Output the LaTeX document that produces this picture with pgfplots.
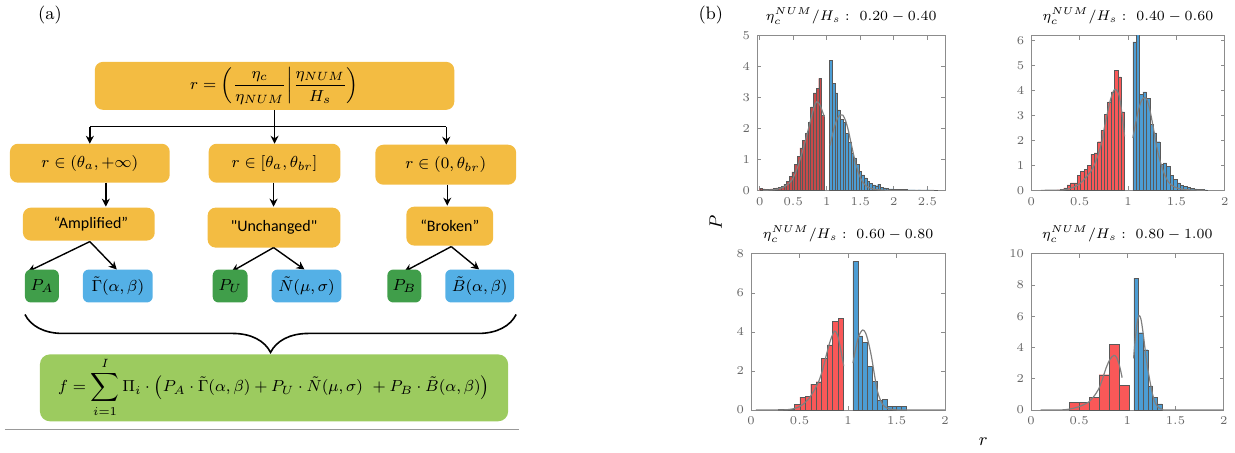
\documentclass[border=0pt]{standalone}
\usepackage{pgfplots}
\pgfplotsset{compat=1.18}
\usepackage{fontspec}
\newfontfamily\calibri{Carlito}
\usetikzlibrary{decorations.pathreplacing,arrows.meta}
\definecolor{orangebox}{RGB}{243,188,66}
\definecolor{greenbox}{RGB}{64,158,74}
\definecolor{bluebox}{RGB}{84,176,230}
\definecolor{lgreen}{RGB}{156,203,95}
\definecolor{redA}{RGB}{200,74,74}
\definecolor{redB}{RGB}{250,88,88}
\definecolor{blueH}{RGB}{76,157,212}
\pgfplotsset{
  hist/.style={
    scale only axis, anchor=south west,
    axis line style={black!45},
    tick style={black!45, line width=0.4pt},
    major tick length=2pt,
    tick align=inside,
    ticklabel style={font=\fontsize{6}{7}\selectfont, text=black!60},
    title style={font=\fontsize{7.5}{8}\selectfont, at={(0.5,1)}, anchor=south, yshift=-2.5pt, inner sep=2pt},
    ymin=0, clip=true,
  },
  hbar/.style={ybar, bar width=#1, bar shift=0pt, draw=black!65, line width=0.2pt},
  fitline/.style={black!50, line width=0.6pt, no marks, smooth, tension=0.5},
}
\tikzset{arr/.style={line width=0.7pt,-{Stealth[length=4pt,width=4pt]}}}
\begin{document}
\begin{tikzpicture}
\begin{scope}[x=0.5pt,y=0.5pt]
\useasboundingbox (0,0) rectangle (1235,453);
% ---------------- (a) flowchart ----------------
\node[font=\fontsize{9}{10}\selectfont] at (50,438) {(a)};
\fill[orangebox, rounded corners=4pt] (95,343) rectangle (455,391);
\node[font=\fontsize{8}{10}\selectfont] at (275,367) {$\displaystyle r=\left(\frac{\eta_c}{\eta_{NUM}}\middle|\frac{\eta_{NUM}}{H_s}\right)$};
\draw[line width=0.7pt] (275,343) -- (275,326);
\draw[line width=0.7pt] (90,326) -- (447,326);
\draw[arr] (90,326) -- (90,309);
\draw[arr] (275,326) -- (275,309);
\draw[arr] (447,326) -- (447,308);
% row 2
\fill[orangebox, rounded corners=4pt] (10,270) rectangle (170,309);
\fill[orangebox, rounded corners=4pt] (209,270) rectangle (341,309);
\fill[orangebox, rounded corners=4pt] (376,268) rectangle (517,308);
\node[font=\fontsize{8}{10}\selectfont] at (90,289.5) {$r\in(\theta_a,+\infty)$};
\node[font=\fontsize{8}{10}\selectfont] at (275,289.5) {$r\in[\theta_a,\theta_{br}]$};
\node[font=\fontsize{8}{10}\selectfont] at (446.5,288) {$r\in(0,\theta_{br})$};
\draw[arr] (106,270) -- (106,246);
\draw[arr] (274,270) -- (274,246);
\draw[arr] (448,268) -- (448,247);
% row 3
\fill[orangebox, rounded corners=4pt] (23,212) rectangle (155,245);
\fill[orangebox, rounded corners=4pt] (208,205) rectangle (341,245);
\fill[orangebox, rounded corners=4pt] (407,207) rectangle (494,246);
\node[font=\calibri\fontsize{8}{9}\selectfont] at (91,229) {“Amplified”};
\node[font=\calibri\fontsize{8}{9}\selectfont] at (274.5,225) {"Unchanged"};
\node[font=\calibri\fontsize{8}{9}\selectfont] at (450.5,226.5) {“Broken”};
\draw[arr] (90,211) -- (28,181);
\draw[arr] (90,211) -- (117,183);
\draw[arr] (274,205) -- (232,181);
\draw[arr] (274,205) -- (305,183);
\draw[arr] (452,206) -- (405,181);
\draw[arr] (452,206) -- (480,183);
% row 4
\fill[greenbox, rounded corners=3pt] (25,150) rectangle (59,183);
\fill[bluebox, rounded corners=3pt] (83,150) rectangle (153,183);
\fill[greenbox, rounded corners=3pt] (213,150) rectangle (248,183);
\fill[bluebox, rounded corners=3pt] (272,150) rectangle (342,183);
\fill[greenbox, rounded corners=3pt] (388,150) rectangle (422,183);
\fill[bluebox, rounded corners=3pt] (446,150) rectangle (515,183);
\begin{scope}[every node/.style={font=\fontsize{8}{10}\selectfont}]
\node at (42,166.5) {$P_A$};
\node at (118,166.5) {$\tilde\Gamma(\alpha,\beta)$};
\node at (230.5,166.5) {$P_U$};
\node at (307,166.5) {$\tilde N(\mu,\sigma)$};
\node at (405,166.5) {$P_B$};
\node at (480.5,166.5) {$\tilde B(\alpha,\beta)$};
\end{scope}
% brace
\draw[line width=0.8pt, decorate, decoration={brace, mirror, amplitude=19pt}] (25,138) -- (517,138);
% bottom box
\fill[lgreen, rounded corners=5pt] (40,31) rectangle (509,98);
\node[font=\fontsize{8.5}{10}\selectfont] at (274.5,64.5) {$\displaystyle f=\sum_{i=1}^{I}\Pi_i\cdot\big(P_A\cdot\tilde\Gamma(\alpha,\beta)+P_U\cdot\tilde N(\mu,\sigma)\ +P_B\cdot\tilde B(\alpha,\beta)\big)$};
\draw[black!40, line width=0.6pt] (5,23) -- (520,23);
% ---------------- (b) labels ----------------
\node[font=\fontsize{9}{10}\selectfont] at (712,438) {(b)};
\node[rotate=90, font=\fontsize{9}{10}\selectfont] at (717,230) {$P$};
\node[font=\fontsize{9}{10}\selectfont] at (985,11) {$r$};
\end{scope}
% panel 1
\begin{axis}[hist, at={(379.15pt,131.15pt)}, width=94.35pt, height=77.5pt,
  xmin=-0.04, xmax=2.77, ymax=5, xtick={0,0.5,1,1.5,2,2.5}, ytick={0,1,2,3,4,5},
  title={$\eta_c^{NUM}/H_s:\ 0.20-0.40$}]
\addplot[hbar=0.04, fill=redA] coordinates {
(0.02,0.07)(0.06,0.05)(0.10,0.04)(0.14,0.04)(0.18,0.05)(0.22,0.06)(0.26,0.08)(0.30,0.10)
(0.34,0.13)(0.38,0.20)(0.42,0.30)(0.46,0.45)(0.50,0.60)(0.54,0.83)(0.58,1.10)(0.62,1.37)
(0.66,1.62)(0.70,1.85)(0.74,2.20)(0.78,2.70)(0.82,3.15)(0.86,3.30)(0.90,3.62)(0.94,2.42)};
\addplot[hbar=0.04, fill=blueH] coordinates {
(1.06,4.20)(1.10,3.45)(1.14,3.15)(1.18,2.60)(1.22,2.30)(1.26,2.20)(1.30,1.85)(1.34,1.55)
(1.38,1.20)(1.42,1.05)(1.46,0.85)(1.50,0.62)(1.54,0.50)(1.58,0.40)(1.62,0.30)(1.66,0.22)
(1.70,0.18)(1.74,0.15)(1.78,0.20)(1.82,0.10)(1.86,0.08)(1.90,0.06)(1.94,0.05)(1.98,0.05)
(2.02,0.04)(2.06,0.04)(2.10,0.03)(2.14,0.03)(2.18,0.03)(2.22,0.02)(2.26,0.02)(2.30,0.02)
(2.34,0.01)(2.38,0.02)(2.42,0.01)(2.46,0.01)(2.50,0.02)(2.54,0.01)(2.58,0.01)(2.62,0.01)};
\addplot[fitline] coordinates {(0.05,0)(0.15,0.01)(0.25,0.03)(0.35,0.1)(0.42,0.2)(0.48,0.33)(0.53,0.55)(0.58,0.85)(0.63,1.2)(0.68,1.6)(0.73,2.02)(0.78,2.45)(0.82,2.75)(0.85,2.86)(0.88,2.82)(0.91,2.7)(0.94,2.52)(0.965,2.38)};
\addplot[fitline] coordinates {(1.05,1.45)(1.08,1.75)(1.12,2.1)(1.16,2.33)(1.2,2.44)(1.24,2.43)(1.28,2.25)(1.32,1.95)(1.36,1.55)(1.4,1.15)(1.44,0.8)(1.48,0.52)(1.52,0.33)(1.56,0.2)(1.62,0.1)(1.7,0.04)(1.8,0.015)(1.9,0.005)(2.0,0)(2.6,0)};
\end{axis}
% panel 2
\begin{axis}[hist, at={(516.5pt,131.15pt)}, width=96.85pt, height=77.5pt,
  xmin=0, xmax=2, ymax=6.2, xtick={0,0.5,1,1.5,2}, ytick={0,1,2,3,4,5,6},
  title={$\eta_c^{NUM}/H_s:\ 0.40-0.60$}]
\addplot[hbar=0.035, fill=redB] coordinates {
(0.2825,0.02)(0.3175,0.05)(0.3525,0.10)(0.3875,0.22)(0.4225,0.30)(0.4575,0.30)(0.4925,0.60)
(0.5275,0.75)(0.5625,0.85)(0.5975,1.00)(0.6325,1.45)(0.6675,1.50)(0.7025,1.95)(0.7375,2.40)
(0.7725,3.05)(0.8075,3.55)(0.8425,3.95)(0.8775,4.80)(0.9125,4.55)(0.9475,3.15)};
\addplot[hbar=0.035, fill=blueH] coordinates {
(1.0675,5.95)(1.1025,6.30)(1.1375,3.85)(1.1725,3.95)(1.2075,3.70)(1.2425,2.65)(1.2775,2.30)
(1.3125,1.95)(1.3475,1.05)(1.3825,1.10)(1.4175,0.95)(1.4525,0.60)(1.4875,0.45)(1.5225,0.30)
(1.5575,0.20)(1.5925,0.15)(1.6275,0.12)(1.6625,0.08)(1.6975,0.06)(1.7325,0.05)(1.7675,0.04)(1.8025,0.02)};
\addplot[fitline] coordinates {(0.1,0)(0.3,0.01)(0.38,0.05)(0.45,0.15)(0.49,0.23)(0.53,0.37)(0.56,0.5)(0.6,0.68)(0.63,0.85)(0.66,1.1)(0.69,1.42)(0.73,1.95)(0.76,2.6)(0.79,3.15)(0.82,3.65)(0.85,3.98)(0.87,4.05)(0.9,3.9)(0.92,3.56)(0.94,3.0)(0.965,2.16)};
\addplot[fitline] coordinates {(1.05,2.1)(1.08,2.7)(1.11,3.25)(1.14,3.6)(1.17,3.72)(1.2,3.6)(1.23,3.15)(1.26,2.55)(1.29,1.9)(1.32,1.35)(1.35,0.95)(1.38,0.62)(1.42,0.33)(1.46,0.18)(1.52,0.08)(1.6,0.03)(1.7,0.01)(1.8,0)};
\end{axis}
% panel 3
\begin{axis}[hist, at={(376.15pt,21.15pt)}, width=97.2pt, height=78.2pt,
  xmin=0, xmax=2, ymax=8, xtick={0,0.5,1,1.5,2}, ytick={0,2,4,6,8},
  title={$\eta_c^{NUM}/H_s:\ 0.60-0.80$}]
\addplot[hbar=0.0563, fill=redB] coordinates {
(0.305,0.02)(0.3615,0.05)(0.418,0.04)(0.474,0.30)(0.5305,0.66)(0.587,0.70)
(0.643,1.33)(0.6995,1.45)(0.756,2.63)(0.812,3.34)(0.8685,4.55)(0.925,4.69)};
\addplot[hbar=0.05, fill=blueH] coordinates {
(1.075,7.60)(1.125,3.80)(1.175,3.45)(1.225,2.25)(1.275,1.48)(1.325,0.51)
(1.375,0.55)(1.425,0.20)(1.475,0.20)(1.525,0.17)(1.575,0.17)};
\addplot[fitline] coordinates {(0.05,0)(0.28,0.0)(0.38,0.02)(0.45,0.08)(0.5,0.18)(0.55,0.35)(0.6,0.62)(0.65,1.0)(0.7,1.5)(0.74,2.1)(0.78,2.9)(0.82,3.6)(0.86,4.04)(0.89,3.85)(0.92,3.2)(0.955,2.25)};
\addplot[fitline] coordinates {(1.05,2.4)(1.08,3.2)(1.11,3.8)(1.15,4.1)(1.18,3.95)(1.21,3.45)(1.24,2.75)(1.27,1.85)(1.3,1.0)(1.33,0.55)(1.36,0.26)(1.4,0.1)(1.45,0.03)(1.55,0)(2.0,0)};
\end{axis}
% panel 4
\begin{axis}[hist, at={(516.35pt,21.15pt)}, width=96.5pt, height=78.2pt,
  xmin=0, xmax=2, ymax=10, xtick={0,0.5,1,1.5,2}, ytick={0,2,4,6,8,10},
  title={$\eta_c^{NUM}/H_s:\ 0.80-1.00$}]
\addplot[hbar=0.1025, fill=redB] coordinates {
(0.45125,0.50)(0.55375,0.51)(0.65625,0.83)(0.75875,2.26)(0.86125,4.20)(0.96375,1.60)};
\addplot[hbar=0.049, fill=blueH] coordinates {
(1.0915,8.44)(1.1405,4.95)(1.1895,3.86)(1.2385,1.54)(1.2875,0.79)(1.3365,0.40)};
\addplot[fitline] coordinates {(0.1,0)(0.28,0)(0.35,0.02)(0.4,0.06)(0.45,0.13)(0.5,0.22)(0.55,0.35)(0.6,0.52)(0.65,0.85)(0.7,1.32)(0.74,1.95)(0.78,2.7)(0.82,3.25)(0.86,3.5)(0.89,3.35)(0.92,2.8)(0.946,2.07)};
\addplot[fitline] coordinates {(1.065,3.3)(1.08,4.4)(1.1,5.5)(1.12,6.05)(1.14,5.85)(1.16,5.1)(1.18,4.1)(1.2,3.1)(1.23,2.0)(1.26,1.05)(1.29,0.45)(1.32,0.18)(1.36,0.05)(1.42,0)(2,0)};
\end{axis}
\end{tikzpicture}
\end{document}
